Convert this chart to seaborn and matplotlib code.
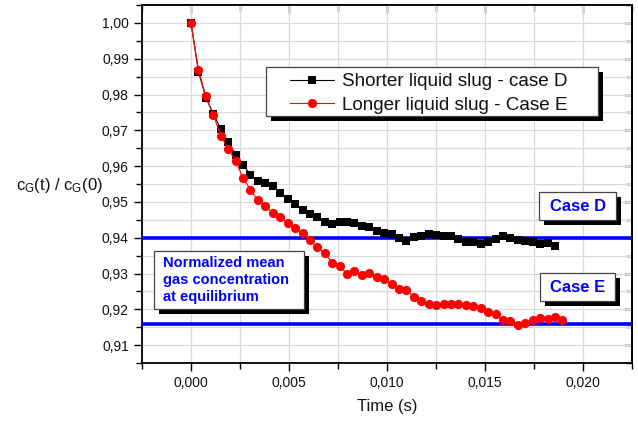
import numpy as np
import pandas as pd
import matplotlib
matplotlib.use("Agg")
import matplotlib.pyplot as plt
import seaborn as sns
from matplotlib.patches import Rectangle
from matplotlib.ticker import MultipleLocator, FuncFormatter

# ---------------- data ----------------
time_s = [0.00000, 0.00038, 0.00076, 0.00114, 0.00152, 0.00190, 0.00228, 0.00265,
          0.00303, 0.00341, 0.00379, 0.00417, 0.00455, 0.00493, 0.00531, 0.00569,
          0.00606, 0.00644, 0.00682, 0.00720, 0.00758, 0.00796, 0.00834, 0.00872,
          0.00910, 0.00948, 0.00985, 0.01023, 0.01061, 0.01099, 0.01137, 0.01175,
          0.01213, 0.01251, 0.01289, 0.01327, 0.01364, 0.01402, 0.01440, 0.01478,
          0.01516, 0.01554, 0.01592, 0.01630, 0.01668, 0.01706, 0.01743, 0.01781,
          0.01819, 0.01857, 0.01895]

ratio_case_d = [1.0000, 0.9864, 0.9791, 0.9746, 0.9704, 0.9667, 0.9632, 0.9604,
                0.9576, 0.9558, 0.9553, 0.9545, 0.9526, 0.9509, 0.9495, 0.9478,
                0.9467, 0.9458, 0.9444, 0.9437, 0.9445, 0.9444, 0.9440, 0.9432,
                0.9430, 0.9418, 0.9412, 0.9409, 0.9400, 0.9391, 0.9402, 0.9406,
                0.9409, 0.9407, 0.9405, 0.9405, 0.9395, 0.9389, 0.9387, 0.9382,
                0.9388, 0.9397, 0.9404, 0.9400, 0.9393, 0.9391, 0.9388, 0.9383,
                0.9386, 0.9376]

ratio_case_e = [1.0000, 0.9868, 0.9795, 0.9743, 0.9685, 0.9648, 0.9614, 0.9567,
                0.9534, 0.9504, 0.9488, 0.9470, 0.9458, 0.9442, 0.9428, 0.9413,
                0.9393, 0.9374, 0.9357, 0.9330, 0.9320, 0.9300, 0.9307, 0.9295,
                0.9302, 0.9291, 0.9286, 0.9270, 0.9258, 0.9255, 0.9233, 0.9224,
                0.9214, 0.9213, 0.9216, 0.9216, 0.9214, 0.9213, 0.9209, 0.9205,
                0.9192, 0.9186, 0.9171, 0.9168, 0.9156, 0.9162, 0.9169, 0.9176,
                0.9172, 0.9178, 0.9170]

eq_case_d = 0.940
eq_case_e = 0.916

label_d = "Shorter liquid slug - case D"
label_e = "Longer liquid slug - Case E"
box_d_text = "Case D"
box_e_text = "Case E"
note_text = "Normalized mean\ngas concentration\nat equilibrium"

df_d = pd.DataFrame({"t": time_s[:len(ratio_case_d)], "c": ratio_case_d})
df_e = pd.DataFrame({"t": time_s[:len(ratio_case_e)], "c": ratio_case_e})

# ---------------- style ----------------
sns.set_theme(style="white")
plt.rcParams["font.family"] = ["Liberation Sans", "DejaVu Sans"]
plt.rcParams["mathtext.default"] = "regular"

W, H = 638, 425
fig = plt.figure(figsize=(W / 100, H / 100), dpi=100)
fig.patch.set_facecolor("white")
ax_l, ax_r, ax_t, ax_b = 142, 632, 5, 363
ax = fig.add_axes([ax_l / W, 1 - ax_b / H, (ax_r - ax_l) / W, (ax_b - ax_t) / H])
ax.set_facecolor("white")


def fpx(x, y):
    return (x / W, 1 - y / H)


ax.set_xlim(-0.0025, 0.0225)
ax.set_ylim(0.905, 1.005)
ax.xaxis.set_major_locator(MultipleLocator(0.005))
ax.xaxis.set_minor_locator(MultipleLocator(0.0025))
ax.yaxis.set_major_locator(MultipleLocator(0.01))
ax.yaxis.set_minor_locator(MultipleLocator(0.005))
ax.grid(True, which="both", color="#d9d9d9", linewidth=0.9)
ax.set_axisbelow(True)

# equilibrium lines
ax.axhline(eq_case_d, color="#0000ff", linewidth=2.6, zorder=3)
ax.axhline(eq_case_e, color="#0000ff", linewidth=2.6, zorder=3)

# series
sns.lineplot(data=df_d, x="t", y="c", ax=ax, color="black", linewidth=0.8,
             marker="s", markersize=5.5, markeredgewidth=0, label=label_d,
             zorder=4, estimator=None, sort=False)
sns.lineplot(data=df_e, x="t", y="c", ax=ax, color="#ff0000", linewidth=0.8,
             marker="o", markersize=6.6, markeredgewidth=0, label=label_e,
             zorder=5, estimator=None, sort=False)

# ticks
ax.xaxis.set_major_formatter(FuncFormatter(lambda v, p: f"{v:.3f}".replace(".", ",")))
ax.yaxis.set_major_formatter(FuncFormatter(lambda v, p: f"{v:.2f}".replace(".", ",")))
ax.tick_params(axis="both", which="both", color="black", width=1.0)
ax.tick_params(axis="both", which="major", length=6, labelsize=10, labelcolor="#111111")
ax.tick_params(axis="both", which="minor", length=4)
ax.tick_params(axis="x", which="both", direction="out", top=False, bottom=True)
ax.tick_params(axis="y", which="both", direction="out", right=False, left=True)
for spine in ax.spines.values():
    spine.set_color("black")
    spine.set_linewidth(1.3)

sec_x = ax.secondary_xaxis("top")
sec_x.xaxis.set_major_locator(MultipleLocator(0.005))
sec_x.xaxis.set_minor_locator(MultipleLocator(0.0025))
sec_x.tick_params(which="both", direction="in", labeltop=False, color="black", width=1.0)
sec_x.tick_params(which="major", length=6)
sec_x.tick_params(which="minor", length=4)
sec_y = ax.secondary_yaxis("right")
sec_y.yaxis.set_major_locator(MultipleLocator(0.01))
sec_y.yaxis.set_minor_locator(MultipleLocator(0.005))
sec_y.tick_params(which="both", direction="in", labelright=False, color="black", width=1.0)
sec_y.tick_params(which="major", length=6)
sec_y.tick_params(which="minor", length=4)
for s in list(sec_x.spines.values()) + list(sec_y.spines.values()):
    s.set_linewidth(1.3)

ax.set_xlabel("Time (s)", fontsize=12, color="#111111", labelpad=6)
ax.set_ylabel("c$_G$(t) / c$_G$(0)", fontsize=12, color="#111111", rotation=0,
              ha="right", va="center")
ax.yaxis.set_label_coords(-0.08, 0.495)


def shadow_box(x0, y0, x1, y1, off=5):
    ax.add_patch(Rectangle(fpx(x0 + off, y1 + off), (x1 - x0) / W, (y1 - y0) / H,
                           transform=fig.transFigure, facecolor="black", edgecolor="none",
                           zorder=7, clip_on=False))
    ax.add_patch(Rectangle(fpx(x0, y1), (x1 - x0) / W, (y1 - y0) / H,
                           transform=fig.transFigure, facecolor="white", edgecolor="#444444",
                           linewidth=0.9, zorder=7.5, clip_on=False))


# legend: custom framed box with shadow, legend itself frameless on top
shadow_box(265.7, 66.7, 598.3, 116)
leg = ax.legend(loc="upper left",
                bbox_to_anchor=((290 - ax_l) / (ax_r - ax_l), (ax_b - 73.0) / (ax_b - ax_t)),
                borderaxespad=0, borderpad=0, frameon=False, fontsize=13.6,
                handlelength=2.35, handletextpad=0.4, labelspacing=0.34)
leg.set_zorder(8)
for txt in leg.get_texts():
    txt.set_color("#111111")

shadow_box(539.3, 192.3, 616, 220)
shadow_box(540, 272.7, 615, 300.7)
shadow_box(154, 250.7, 304, 309.3)

ax.text(*fpx(578, 206.5), box_d_text, transform=fig.transFigure, color="#0000ff",
        fontsize=12, fontweight="bold", ha="center", va="center", zorder=9)
ax.text(*fpx(578, 287), box_e_text, transform=fig.transFigure, color="#0000ff",
        fontsize=12, fontweight="bold", ha="center", va="center", zorder=9)
ax.text(*fpx(163, 280), note_text, transform=fig.transFigure, color="#0000ff",
        fontsize=10.5, fontweight="bold", ha="left", va="center", linespacing=1.25,
        zorder=9)

fig.savefig("out.png", dpi=100, facecolor="white")
